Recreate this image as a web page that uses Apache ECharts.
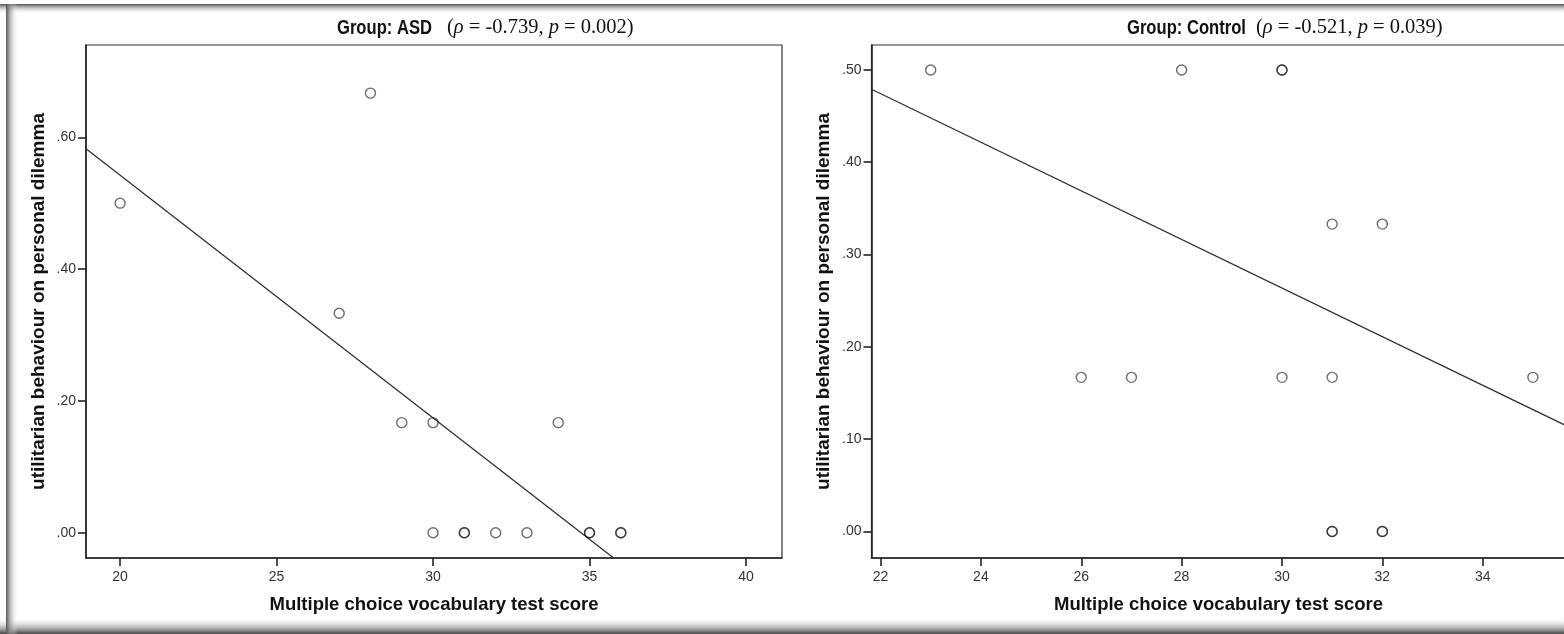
<!DOCTYPE html>
<html>
<head>
<meta charset="utf-8">
<script src="https://cdn.jsdelivr.net/npm/echarts@6/dist/echarts.min.js"></script>
<style>
  html, body { margin: 0; padding: 0; background: #ffffff; overflow: hidden; width: 1564px; height: 634px; }
  #chart { width: 1640px; height: 634px; }
</style>
</head>
<body>
<div id="chart"></div>
<script>
// ASD group: vocabulary score vs. proportion of utilitarian choices
const asdScore = [20, 27, 28, 29, 30, 30, 31, 31, 32, 33, 34, 35, 35, 36, 36];
const asdUtil  = [0.5, 0.333, 0.667, 0.167, 0.167, 0, 0, 0, 0, 0, 0.167, 0, 0, 0, 0];
// Control group
const ctlScore = [23, 28, 30, 30, 31, 32, 26, 27, 30, 31, 35, 31, 31, 32, 32];
const ctlUtil  = [0.5, 0.5, 0.5, 0.5, 0.333, 0.333, 0.167, 0.167, 0.167, 0.167, 0.167, 0, 0, 0, 0];
// Fit line end points for each group
const asdFitX = [18.9, 35.76];
const asdFitY = [0.583, -0.038];
const ctlFitX = [21.82, 35.65];
const ctlFitY = [0.479, 0.115];
// Tick values
const asdXTicks = [20, 25, 30, 35, 40];
const asdYTicks = [0, 0.2, 0.4, 0.6];
const ctlXTicks = [22, 24, 26, 28, 30, 32, 34];
const ctlYTicks = [0, 0.1, 0.2, 0.3, 0.4, 0.5];
// Panel headings
const asdTitle = { group: 'Group: ASD', rho: '-0.739', p: '0.002' };
const ctlTitle = { group: 'Group: Control', rho: '-0.521', p: '0.039' };
const xTitle = 'Multiple choice vocabulary test score';
const yTitle = 'utilitarian behaviour on personal dilemma';

const pairs = (xs, ys) => xs.map((x, i) => [x, ys[i]]);
const fmtY = v => v.toFixed(2).replace(/^0/, '');
const INK = '#222';
const SANS = '"Liberation Sans", Arial, sans-serif';
const SERIF = '"Liberation Serif", "Times New Roman", serif';

function xAxisFor(idx, min, max, ticks) {
  return {
    type: 'value', gridIndex: idx, min: min, max: max,
    name: xTitle, nameLocation: 'middle', nameGap: 37,
    nameTextStyle: { fontFamily: SANS, fontWeight: 'bold', fontSize: 18.5, color: '#111' },
    axisLine: { show: true, onZero: false, lineStyle: { color: INK, width: 1.6 } },
    axisTick: { show: true, length: 8, customValues: ticks, lineStyle: { color: INK, width: 1.6 } },
    axisLabel: { customValues: ticks, fontFamily: SANS, fontSize: 14, color: '#333', margin: 12 },
    splitLine: { show: false }
  };
}
function yAxisFor(idx, min, max, ticks) {
  return {
    type: 'value', gridIndex: idx, min: min, max: max,
    name: yTitle, nameLocation: 'middle', nameGap: 38,
    nameTextStyle: { fontFamily: SANS, fontWeight: 'bold', fontSize: 19, color: '#111' },
    axisLine: { show: true, onZero: false, lineStyle: { color: INK, width: 1.6 } },
    axisTick: { show: true, length: 8, customValues: ticks, lineStyle: { color: INK, width: 1.6 } },
    axisLabel: { customValues: ticks, formatter: fmtY, fontFamily: SANS, fontSize: 14, color: '#333', margin: 10 },
    splitLine: { show: false }
  };
}
// Heading: condensed bold group name followed by the serif statistics
function headingFor(t, x, statsX) {
  return [
    { type: 'text', x: x, y: 28, scaleX: 0.83, silent: true,
      style: { text: t.group, fontFamily: SANS, fontWeight: 'bold', fontSize: 20, fill: '#111', verticalAlign: 'middle' } },
    { type: 'text', x: statsX, y: 28, silent: true,
      style: {
        text: '{s|(}{i|ρ}{s| = ' + t.rho + ', }{i|p}{s| = ' + t.p + ')}',
        verticalAlign: 'middle',
        rich: {
          s: { fontFamily: SERIF, fontSize: 20.5, fontWeight: 'normal', fill: '#111' },
          i: { fontFamily: SERIF, fontSize: 20.5, fontWeight: 'normal', fontStyle: 'italic', fill: '#111' }
        }
      } }
  ];
}
function scatterFor(idx, xs, ys) {
  return {
    type: 'scatter', xAxisIndex: idx, yAxisIndex: idx,
    data: pairs(xs, ys), symbol: 'circle', symbolSize: 10,
    itemStyle: { color: 'rgba(255,255,255,0)', borderColor: 'rgba(25,25,25,0.8)', borderWidth: 1.4 },
    emphasis: { disabled: true }, z: 3
  };
}
function fitFor(idx, xs, ys) {
  return {
    type: 'line', xAxisIndex: idx, yAxisIndex: idx,
    data: pairs(xs, ys), symbol: 'none', clip: true,
    lineStyle: { color: '#2a2a2a', width: 1.2 },
    emphasis: { disabled: true }, z: 2
  };
}

// Grey window frame around the figure
const frame = [
  { type: 'rect', shape: { x: 0, y: 4, width: 1640, height: 10 },
    style: { fill: new echarts.graphic.LinearGradient(0, 0, 0, 1, [{ offset: 0, color: '#555' }, { offset: 1, color: 'rgba(255,255,255,0)' }]) }, silent: true },
  { type: 'rect', shape: { x: 0, y: 617, width: 1640, height: 17 },
    style: { fill: new echarts.graphic.LinearGradient(0, 0, 0, 1, [{ offset: 0, color: 'rgba(255,255,255,0)' }, { offset: 1, color: '#444' }]) }, silent: true },
  { type: 'rect', shape: { x: 6, y: 4, width: 12, height: 630 },
    style: { fill: new echarts.graphic.LinearGradient(0, 0, 1, 0, [{ offset: 0, color: '#555' }, { offset: 1, color: 'rgba(255,255,255,0)' }]) }, silent: true }
];

const chart = echarts.init(document.getElementById('chart'), null, { renderer: 'canvas' });
chart.setOption({
  backgroundColor: '#ffffff',
  animation: false,
  grid: [
    { left: 86, top: 45, width: 696, height: 513, show: true, borderColor: '#333', borderWidth: 1.2, containLabel: false },
    { left: 871.5, top: 45, width: 694, height: 513, show: true, borderColor: '#333', borderWidth: 1.2, containLabel: false }
  ],
  xAxis: [xAxisFor(0, 18.91, 41.15, asdXTicks), xAxisFor(1, 21.82, 35.65, ctlXTicks)],
  yAxis: [yAxisFor(0, -0.0384, 0.740, asdYTicks), yAxisFor(1, -0.0287, 0.527, ctlYTicks)],
  series: [
    scatterFor(0, asdScore, asdUtil), fitFor(0, asdFitX, asdFitY),
    scatterFor(1, ctlScore, ctlUtil), fitFor(1, ctlFitX, ctlFitY)
  ],
  graphic: frame.concat(headingFor(asdTitle, 337, 447), headingFor(ctlTitle, 1127, 1256))
});
</script>
</body>
</html>
